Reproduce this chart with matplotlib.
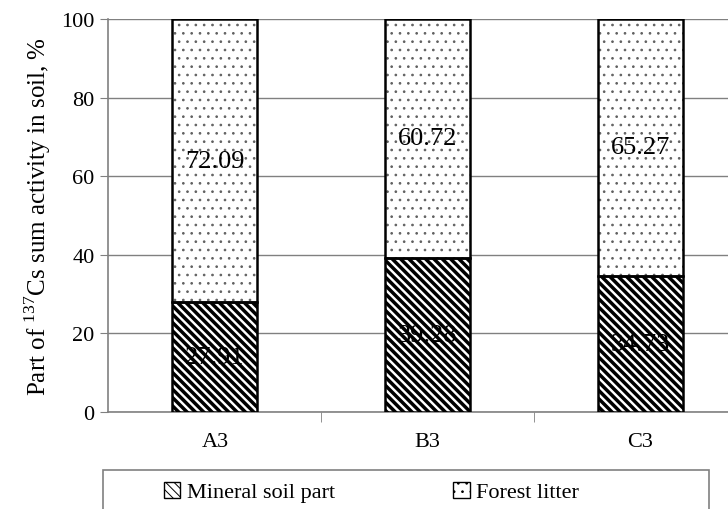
import matplotlib
matplotlib.use('Agg')
import matplotlib.pyplot as plt
from matplotlib.patches import Rectangle
import numpy as np

plt.rcParams['font.family'] = ['Liberation Serif', 'DejaVu Serif']
plt.rcParams['mathtext.fontset'] = 'custom'
plt.rcParams['mathtext.rm'] = 'Liberation Serif'

# data
sites = ['A3', 'B3', 'C3']
mineral = [27.91, 39.28, 34.73]
litter = [72.09, 60.72, 65.27]
series_names = ['Mineral soil part', 'Forest litter']

fig = plt.figure(figsize=(7.28, 5.1), dpi=100)
ax = fig.add_axes([0.149, 0.190, 0.877, 0.771])

x = np.arange(len(sites))
w = 0.40

# mineral part: black diagonal hatch
plt.rcParams['hatch.linewidth'] = 2.5
b1 = ax.bar(x, mineral, w, color='white', edgecolor='black', hatch='\\' * 4,
            linewidth=0, label=series_names[0], zorder=3)

# forest litter: sparse gray dots
plt.rcParams['hatch.linewidth'] = 0.7
b2 = ax.bar(x, litter, w, bottom=mineral, color='white', edgecolor='#606060',
            hatch='..', linewidth=0, label=series_names[1], zorder=3)

# black outlines on top
ax.bar(x, litter, w, bottom=mineral, fill=False, edgecolor='black',
       linewidth=1.8, zorder=3.5)
ax.bar(x, mineral, w, fill=False, edgecolor='black', linewidth=1.8, zorder=3.5)

for i in range(len(sites)):
    ax.text(x[i], mineral[i] / 2, f'{mineral[i]:.2f}', ha='center', va='center',
            fontsize=19, zorder=4)
    ax.text(x[i], mineral[i] + litter[i] / 2, f'{litter[i]:.2f}', ha='center',
            va='center', fontsize=19, zorder=4)

ax.set_xlim(-0.5, 2.5)
ax.set_ylim(0, 100)
ax.set_yticks(range(0, 101, 20))
ax.set_xticks(x)
ax.set_xticklabels(sites)
ax.set_xticks([0.5, 1.5], minor=True)
ax.tick_params(axis='x', which='major', length=0, pad=14, labelsize=16)
ax.tick_params(axis='x', which='minor', length=7, color='#808080')
ax.tick_params(axis='y', length=6, color='#808080', labelsize=16, pad=4)
ax.yaxis.grid(True, color='#808080', linewidth=1, zorder=0)
for s in ['top', 'right']:
    ax.spines[s].set_visible(False)
for s in ['left', 'bottom']:
    ax.spines[s].set_color('#808080')
    ax.spines[s].set_linewidth(1.2)

ax.set_ylabel(r'Part of $^{137}$Cs sum activity in soil, %', fontsize=18, labelpad=6)

# legend box at the bottom (runs past the lower edge, as in the original)
fig.patches.append(Rectangle((103 / 728, -0.05), 606 / 728, 0.05 + 39 / 510,
                             transform=fig.transFigure, fill=False,
                             edgecolor='#808080', linewidth=1.2))
leg = fig.legend(handles=[b1, b2], labels=series_names, loc='center left',
                 bbox_to_anchor=(0.225, 1 - 493 / 510), ncol=2,
                 fontsize=16, frameon=False, handlelength=0.75,
                 handleheight=0.75, handletextpad=0.3, borderaxespad=0,
                 borderpad=0, columnspacing=5.3)
for h in leg.legend_handles:
    h.set_edgecolor('black')
    h.set_linewidth(1.0)

fig.savefig('out.png', dpi=100)
